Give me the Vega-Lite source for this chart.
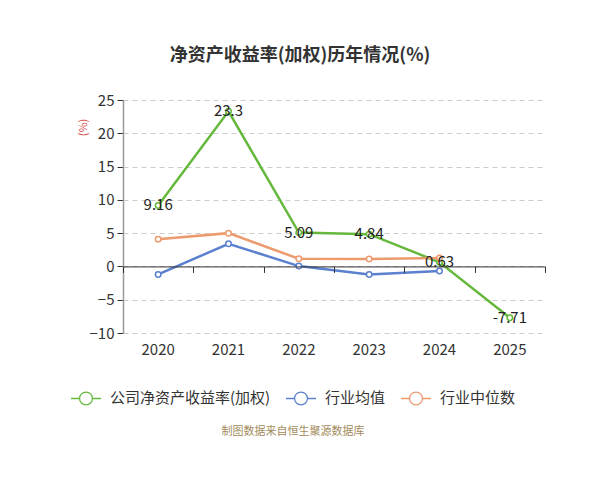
{
  "$schema": "https://vega.github.io/schema/vega-lite/v6.json",
  "width": 422,
  "height": 233,
  "autosize": {"type": "none"},
  "padding": {"left": 123, "top": 100, "right": 55, "bottom": 147},
  "background": "white",
  "config": {"font": "Noto Sans CJK SC", "view": {"stroke": null}},
  "title": {
    "text": "净资产收益率(加权)历年情况(%)",
    "fontSize": 18,
    "fontWeight": "bold",
    "color": "#333",
    "anchor": "middle",
    "dx": -34,
    "offset": 28
  },
  "data": {
    "values": [
      {"year": "2020", "series": "公司净资产收益率(加权)", "value": 9.16},
      {"year": "2021", "series": "公司净资产收益率(加权)", "value": 23.3},
      {"year": "2022", "series": "公司净资产收益率(加权)", "value": 5.09},
      {"year": "2023", "series": "公司净资产收益率(加权)", "value": 4.84},
      {"year": "2024", "series": "公司净资产收益率(加权)", "value": 0.63},
      {"year": "2025", "series": "公司净资产收益率(加权)", "value": -7.71},
      {"year": "2020", "series": "行业均值", "value": -1.2},
      {"year": "2021", "series": "行业均值", "value": 3.4},
      {"year": "2022", "series": "行业均值", "value": 0.05},
      {"year": "2023", "series": "行业均值", "value": -1.2},
      {"year": "2024", "series": "行业均值", "value": -0.7},
      {"year": "2020", "series": "行业中位数", "value": 4.1},
      {"year": "2021", "series": "行业中位数", "value": 5.0},
      {"year": "2022", "series": "行业中位数", "value": 1.15},
      {"year": "2023", "series": "行业中位数", "value": 1.1},
      {"year": "2024", "series": "行业中位数", "value": 1.25}
    ]
  },
  "encoding": {
    "y": {
      "field": "value",
      "type": "quantitative",
      "scale": {"domain": [-10, 25], "nice": false, "zero": false},
      "axis": {
        "values": [-10, -5, 0, 5, 10, 15, 20, 25],
        "grid": true,
        "gridDash": [5, 4],
        "gridColor": "#ccc",
        "domainColor": "#999",
        "domainWidth": 1.5,
        "tickColor": "#333",
        "tickSize": 6,
        "labelFontSize": 15,
        "labelColor": "#333",
        "labelPadding": 3,
        "title": "(%)",
        "titleColor": "#d9534f",
        "titleFontSize": 11,
        "titleFontWeight": "normal",
        "titleAngle": -90,
        "titleAlign": "center",
        "titleBaseline": "middle",
        "titleX": -40,
        "titleY": 27
      }
    },
    "color": {
      "field": "series",
      "type": "nominal",
      "scale": {
        "domain": ["公司净资产收益率(加权)", "行业均值", "行业中位数"],
        "range": ["#66b83c", "#5b80cf", "#ec9a6e"]
      },
      "legend": {
        "orient": "none",
        "legendX": -53,
        "legendY": 282,
        "direction": "horizontal",
        "title": "制图数据来自恒生聚源数据库",
        "titleOrient": "bottom",
        "titleAnchor": "middle",
        "titleFontSize": 11,
        "titleFontWeight": "normal",
        "titleColor": "#a38b5c",
        "titlePadding": 18,
        "titleLimit": 0,
        "labelFontSize": 15,
        "labelColor": "#333",
        "labelLimit": 0,
        "labelOffset": 8,
        "columnPadding": 12,
        "symbolSize": 900,
        "symbolType": "M-1,0H-0.43M0.43,0H1M0.43,0A0.43,0.43,0,1,1,-0.43,0A0.43,0.43,0,1,1,0.43,0",
        "symbolStrokeWidth": 1.3,
        "symbolFillColor": "white"
      }
    }
  },
  "layer": [
    {
      "mark": {"type": "line", "strokeWidth": 2.5},
      "encoding": {
        "x": {
          "field": "year",
          "type": "ordinal",
          "bandPosition": 0.5,
          "scale": {"type": "band", "paddingInner": 0, "paddingOuter": 0},
          "axis": {
            "orient": "bottom",
            "offset": -66.57,
            "labels": false,
            "domainColor": "#333",
            "domainWidth": 1,
            "tickColor": "#333",
            "tickSize": 6,
            "tickBand": "extent",
            "grid": false,
            "title": null,
            "zindex": 1
          }
        }
      }
    },
    {
      "mark": {"type": "point", "shape": "circle", "filled": false, "fill": "white", "strokeWidth": 1.5, "size": 30, "opacity": 1},
      "encoding": {
        "x": {
          "field": "year",
          "type": "ordinal",
          "bandPosition": 0.5,
          "axis": {
            "orient": "bottom",
            "domain": false,
            "ticks": false,
            "grid": false,
            "labelFontSize": 15,
            "labelColor": "#333",
            "labelPadding": 9,
            "labelAngle": 0,
            "title": null
          }
        }
      }
    },
    {
      "transform": [{"filter": "datum.series === '公司净资产收益率(加权)'"}],
      "mark": {"type": "text", "fontSize": 15, "color": "#222", "align": "center", "baseline": "middle"},
      "encoding": {
        "x": {"field": "year", "type": "ordinal", "bandPosition": 0.5, "axis": null},
        "text": {"field": "value", "type": "nominal"},
        "color": {"value": "#222"}
      }
    }
  ],
  "resolve": {"axis": {"x": "independent"}}
}
